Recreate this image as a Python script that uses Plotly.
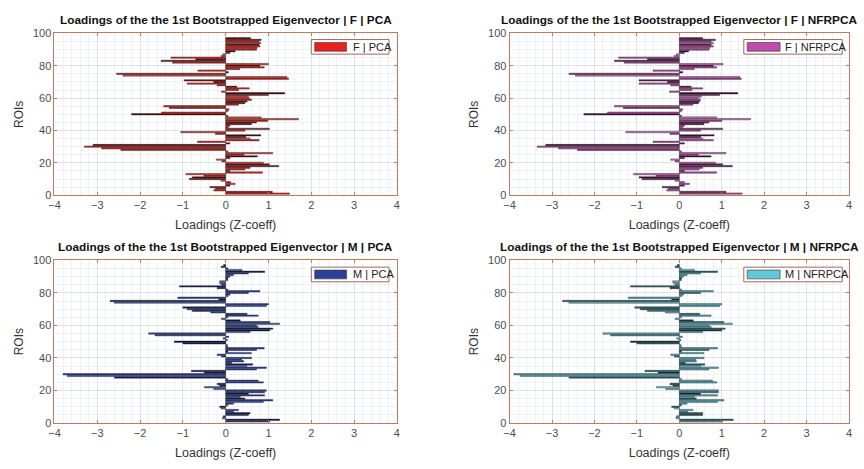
import plotly.graph_objects as go
from plotly.subplots import make_subplots

# ROI loadings of the 1st bootstrapped eigenvector (Z-coeff), ROI 1 upward
f_pca = [1.49, 1.09, -0.28, -0.24, -0.37, 0.10, 0.22, 0.12, -0.11, -0.85,
         -0.78, -0.51, -0.93, 0.86, 0.10, 0.45, 0.57, 1.24, 1.02, 0.88,
         -0.09, -0.22, 0.10, 0.74, 0.43, 1.10, 0.05, -2.45, -2.90, -3.30,
         -3.10, 0.10, -0.66, 0.78, 0.57, 0.47, 0.82, -0.24, -1.05, 0.45,
         1.02, 0.06, 0.10, 0.60, 0.72, 0.98, 1.70, 0.83, 0.05, -2.20,
         -1.50, 0.05, 0.08, -1.32, -1.45, 0.30, 0.45, 0.50, 0.60, 0.55,
         0.53, 1.00, 1.38, -0.10, 0.30, 0.55, 0.26, -0.20, -0.90, -0.28,
         -0.97, 1.47, 1.43, -2.40, -2.55, 0.06, -0.65, 0.33, 0.90, 0.80,
         1.00, -1.24, -1.51, -0.70, -1.28, -0.11, -0.07, 0.10, 0.22, 0.72,
         0.73, 0.80, 0.78, 0.82, 0.78, 0.83, 0.58]

f_nfrpca = [1.48, 1.10, -0.30, -0.26, -0.40, 0.12, 0.24, 0.12, -0.10, -0.88,
            -0.95, -0.55, -1.08, 0.88, 0.12, 0.47, 0.55, 1.25, 1.02, 0.85,
            -0.10, -0.20, 0.12, 0.75, 0.45, 1.10, 0.05, -2.40, -2.85, -3.35,
            -3.15, 0.12, -0.62, 0.80, 0.55, 0.50, 0.82, -0.22, -1.26, 0.50,
            1.02, 0.08, 0.12, 0.58, 0.70, 1.00, 1.68, 0.88, 0.05, -2.25,
            -1.69, 0.05, 0.08, -1.32, -1.53, 0.32, 0.45, 0.48, 0.50, 0.45,
            0.52, 0.95, 1.38, -0.23, 0.30, 0.55, 0.28, -0.20, -0.95, -0.28,
            -0.95, 1.46, 1.43, -2.45, -2.60, 0.08, -0.62, 0.35, 0.88, 0.80,
            1.03, -1.30, -1.53, -0.75, -1.43, -0.12, -0.07, 0.12, 0.22, 0.70,
            0.72, 0.80, 0.75, 0.80, 0.75, 0.85, 0.55]

m_pca = [1.03, 1.26, -0.08, -0.06, 0.53, 0.57, 0.18, 0.30, -0.11, -0.14,
         0.05, 0.18, 0.88, 1.10, 0.45, 0.34, 0.91, 0.53, 0.91, 0.95,
         -0.28, -0.50, -0.14, -0.20, 0.88, 0.76, 0.05, -2.60, -3.70, -3.80,
         -0.50, -0.80, 0.72, 0.95, 0.49, 0.63, 0.14, 0.42, 0.37, 0.60,
         -0.10, -0.20, 0.60, 0.05, 0.72, 0.90, 0.05, 0.04, -1.00, -1.20,
         0.04, -0.06, 0.07, -1.65, -1.80, 0.57, 1.03, 1.10, 0.76, 0.72,
         1.26, 1.03, 0.34, -0.10, 0.05, 0.76, 0.50, -0.35, -0.78, -0.90,
         -1.00, 0.95, 1.00, -2.60, -2.70, -0.16, -1.12, 0.05, 0.10, 0.53,
         0.80, 0.05, -0.20, -1.08, -0.10, -0.14, -0.14, 0.05, 0.05, 0.10,
         0.18, 0.53, 0.91, 0.38, 0.05, -0.11, -0.05]

m_nfrpca = [1.02, 1.27, -0.08, -0.07, 0.55, 0.55, 0.20, 0.32, -0.12, -0.18,
            0.05, 0.18, 0.90, 1.05, 0.40, 0.36, 0.90, 0.50, 0.92, 0.92,
            -0.32, -0.54, -0.15, -0.22, 0.88, 0.78, 0.05, -2.60, -3.75, -3.90,
            -0.50, -0.81, 0.70, 0.92, 0.50, 0.60, 0.14, 0.40, 0.38, 0.58,
            -0.12, -0.20, 0.58, 0.05, 0.70, 0.90, 0.05, 0.04, -1.00, -1.15,
            0.04, -0.06, 0.07, -1.62, -1.80, 0.55, 1.00, 1.08, 0.75, 0.70,
            1.25, 1.05, 0.33, -0.10, 0.05, 0.75, 0.48, -0.33, -0.75, -0.92,
            -1.05, 0.95, 1.00, -2.60, -2.75, -0.18, -1.20, 0.05, 0.10, 0.50,
            0.80, 0.05, -0.22, -1.15, -0.10, -0.14, -0.16, 0.05, 0.05, 0.10,
            0.18, 0.50, 0.90, 0.36, 0.05, -0.10, -0.05]

rois = list(range(1, len(f_pca) + 1))

titles = ["Loadings of the the 1st Bootstrapped Eigenvector | F | PCA",
          "Loadings of the the 1st Bootstrapped Eigenvector | F | NFRPCA",
          "Loadings of the the 1st Bootstrapped Eigenvector | M | PCA",
          "Loadings of the the 1st Bootstrapped Eigenvector | M | NFRPCA"]
legend_names = ["F | PCA", "F | NFRPCA", "M | PCA", "M | NFRPCA"]
series = [f_pca, f_nfrpca, m_pca, m_nfrpca]
x_ticks = [-4, -3, -2, -1, 0, 1, 2, 3, 4]
y_ticks = [0, 20, 40, 60, 80, 100]

# bar shade palettes per panel, and the legend swatch colour
shades = [["#e3211d", "#7a1210", "#c8281f", "#4c0b0b", "#e8564a"],
          ["#b84aa5", "#6a1f5c", "#c05ab0", "#3e1036", "#d07cc4"],
          ["#2b3f98", "#15225c", "#3048a8", "#0e1840", "#5a6cb8"],
          ["#4fa9b6", "#2a6670", "#5bbac6", "#1b3b41", "#88cdd6"]]
swatch = ["#e8211f", "#bd4fab", "#2b4099", "#62c8d8"]
pattern = [0, 1, 2, 0, 3, 1, 0, 2, 4, 1, 3, 0, 2]

FONT = "Liberation Sans, Arial, sans-serif"
AXIS_COL = "#c07a62"

fig = make_subplots(rows=2, cols=2)

domains_x = [[0.0567, 0.4572], [0.589, 0.986]]
domains_y = [[0.586, 0.940], [0.0874, 0.4435]]

for i, vals in enumerate(series):
    r, c = divmod(i, 2)
    cols = [shades[i][pattern[k % len(pattern)]] for k in range(len(vals))]
    fig.add_trace(go.Bar(
        x=vals, y=rois, orientation="h", width=0.85,
        marker=dict(color=cols, line=dict(color="#1a1a1a", width=0.4)),
        showlegend=False, name=legend_names[i]), row=r + 1, col=c + 1)

for i in range(4):
    r, c = divmod(i, 2)
    ax = "" if i == 0 else str(i + 1)
    fig.layout["xaxis" + ax].update(
        domain=domains_x[c], range=[-4, 4], tickvals=x_ticks,
        ticks="inside", ticklen=3, tickcolor=AXIS_COL, mirror="ticks",
        showline=True, linecolor=AXIS_COL, linewidth=1,
        showgrid=True, gridcolor="#dde3ea", gridwidth=1, zeroline=False,
        minor=dict(dtick=0.2, showgrid=True, gridcolor="#eef1f5", gridwidth=1),
        tickfont=dict(family=FONT, size=11, color="#4d4d4d"),
        title=dict(text="Loadings (Z-coeff)", standoff=9,
                   font=dict(family=FONT, size=12.5, color="#333333")))
    fig.layout["yaxis" + ax].update(
        domain=domains_y[r], range=[0, 100], tickvals=y_ticks,
        ticks="inside", ticklen=3, tickcolor=AXIS_COL, mirror="ticks",
        showline=True, linecolor=AXIS_COL, linewidth=1,
        showgrid=True, gridcolor="#dde3ea", gridwidth=1, zeroline=False,
        minor=dict(dtick=5, showgrid=True, gridcolor="#eef1f5", gridwidth=1),
        tickfont=dict(family=FONT, size=11, color="#4d4d4d"),
        title=dict(text="ROIs", standoff=6,
                   font=dict(family=FONT, size=12, color="#333333")))

    xref = ("x" if i == 0 else "x" + str(i + 1)) + " domain"
    yref = ("y" if i == 0 else "y" + str(i + 1)) + " domain"
    # panel title
    fig.add_annotation(text="<b>" + titles[i] + "</b>", xref=xref, yref=yref,
                       x=0.5, y=1.0, yshift=4, xanchor="center", yanchor="bottom",
                       showarrow=False,
                       font=dict(family=FONT, size=11.8, color="#111111"))
    # legend box
    if c == 0:
        box = (0.750, 0.977)
        sw = (0.760, 0.853)
        tx = 0.866
    else:
        box = (0.690, 0.980)
        sw = (0.700, 0.797)
        tx = 0.806
    by = (0.872, 0.962) if r == 0 else (0.868, 0.958)
    fig.add_shape(type="rect", xref=xref, yref=yref,
                  x0=box[0], x1=box[1], y0=by[0], y1=by[1],
                  fillcolor="white", line=dict(color="#9a6a5c", width=1))
    fig.add_shape(type="rect", xref=xref, yref=yref,
                  x0=sw[0], x1=sw[1], y0=by[0] + 0.018, y1=by[1] - 0.018,
                  fillcolor=swatch[i], line=dict(color="#333333", width=0.6))
    fig.add_annotation(text=legend_names[i], xref=xref, yref=yref,
                       x=tx, y=(by[0] + by[1]) / 2, xanchor="left",
                       yanchor="middle", showarrow=False,
                       font=dict(family=FONT, size=11, color="#222222"))

fig.update_layout(width=864, height=469,
                  margin=dict(l=0, r=0, t=0, b=0),
                  paper_bgcolor="white", plot_bgcolor="white",
                  bargap=0.1, showlegend=False)

fig.write_html("out.html")
